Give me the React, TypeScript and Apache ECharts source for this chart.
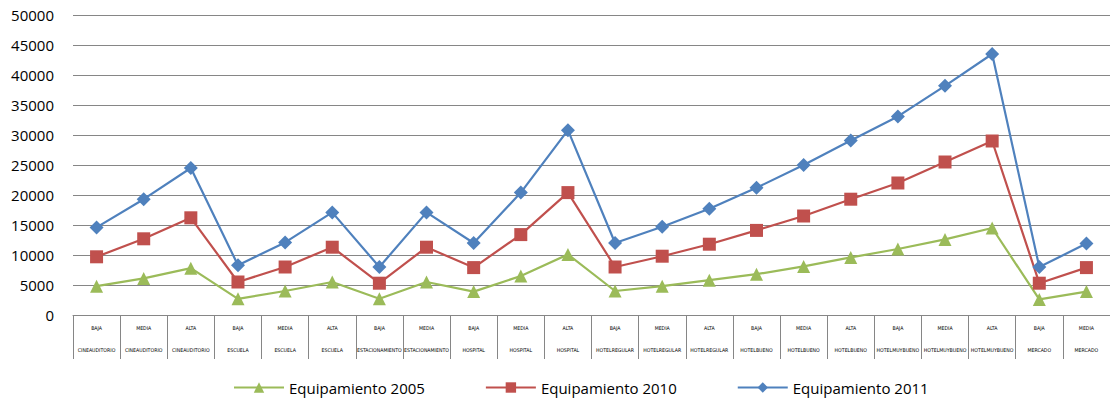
import React, { useEffect, useRef } from "react";
import * as echarts from "echarts";

const levels = ["BAJA", "MEDIA", "ALTA", "BAJA", "MEDIA", "ALTA", "BAJA", "MEDIA", "BAJA", "MEDIA", "ALTA", "BAJA", "MEDIA", "ALTA", "BAJA", "MEDIA", "ALTA", "BAJA", "MEDIA", "ALTA", "BAJA", "MEDIA"];
const types = ["CINEAUDITORIO", "CINEAUDITORIO", "CINEAUDITORIO", "ESCUELA", "ESCUELA", "ESCUELA", "ESTACIONAMIENTO", "ESTACIONAMIENTO", "HOSPITAL", "HOSPITAL", "HOSPITAL", "HOTELREGULAR", "HOTELREGULAR", "HOTELREGULAR", "HOTELBUENO", "HOTELBUENO", "HOTELBUENO", "HOTELMUYBUENO", "HOTELMUYBUENO", "HOTELMUYBUENO", "MERCADO", "MERCADO"];
const yTicks = { min: 0, max: 50000, interval: 5000 };

const equip2005 = [4800, 6100, 7800, 2700, 4000, 5500, 2700, 5500, 3900, 6500, 10100, 4000, 4800, 5800, 6800, 8100, 9600, 11000, 12600, 14500, 2600, 3900];
const equip2010 = [9700, 12700, 16200, 5500, 8000, 11300, 5300, 11300, 7900, 13400, 20400, 8000, 9800, 11800, 14100, 16500, 19300, 22000, 25500, 29000, 5300, 7900];
const equip2011 = [14600, 19300, 24500, 8300, 12100, 17100, 8000, 17100, 12000, 20400, 30800, 12000, 14700, 17700, 21200, 25000, 29100, 33100, 38200, 43500, 8000, 11900];

const seriesNames = ["Equipamiento 2005", "Equipamiento 2010", "Equipamiento 2011"];
const colors = ["#9BBB59", "#C0504D", "#4F81BD"];
const symbols = ["triangle", "rect", "diamond"];
const symbolSizes = [13, 13, 14];

export default function App() {
  const ref = useRef<HTMLDivElement>(null);
  useEffect(() => {
    const chart = echarts.init(ref.current!, null, { renderer: "svg" });
    const categories = levels.map((l, i) => l + "\n" + types[i]);
    const data = [equip2005, equip2010, equip2011];
    chart.setOption({
      animation: false,
      backgroundColor: "#ffffff",
      grid: { left: 73, right: -8, top: 15, bottom: 91, containLabel: false },
      legend: {
        bottom: 6,
        left: 228,
        itemWidth: 50,
        itemHeight: 13,
        itemGap: 60,
        textStyle: { fontFamily: "'Open Sans', sans-serif", fontSize: 15, color: "#000" },
        data: seriesNames,
      },
      xAxis: {
        type: "category",
        data: categories,
        boundaryGap: true,
        axisLine: { lineStyle: { color: "#868686", width: 1 } },
        axisTick: { show: true, length: 44, interval: 0, lineStyle: { color: "#868686" } },
        axisLabel: {
          interval: 0,
          margin: 2,
          fontSize: 5.2,
          lineHeight: 22,
          color: "#000",
          fontFamily: "'DejaVu Sans Condensed', 'Liberation Sans Narrow', sans-serif",
        },
      },
      yAxis: {
        type: "value",
        min: yTicks.min,
        max: yTicks.max,
        interval: yTicks.interval,
        axisLine: { show: false },
        axisTick: { show: false },
        splitLine: { lineStyle: { color: "#868686", width: 1 } },
        axisLabel: {
          margin: 19,
          fontSize: 15,
          color: "#000",
          fontFamily: "'Open Sans', sans-serif",
          formatter: (v: number) => String(v),
        },
      },
      series: data.map((d, i) => ({
        name: seriesNames[i],
        type: "line",
        data: d,
        symbol: symbols[i],
        symbolSize: symbolSizes[i],
        color: colors[i],
        lineStyle: { width: 2.2, color: colors[i] },
        itemStyle: { color: colors[i] },
      })),
    });
    return () => chart.dispose();
  }, []);
  return <div ref={ref} style={{ position: "fixed", left: 0, top: 0, width: 1110, height: 406 }} />;
}
